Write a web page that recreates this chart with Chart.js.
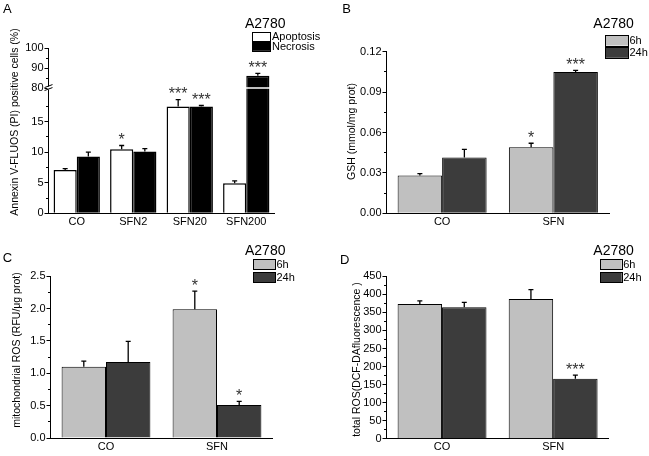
<!DOCTYPE html>
<html>
<head>
<meta charset="utf-8">
<script src="https://cdn.jsdelivr.net/npm/chart.js@4.4.0/dist/chart.umd.min.js"></script>
<style>
html, body { margin: 0; padding: 0; background: #fff; }
#fig { position: relative; width: 649px; height: 456px; overflow: hidden; }
#fig canvas { position: absolute; }
</style>
</head>
<body>
<div id="fig"></div>
<script>
// Panel A - annexin / PI
const catsA = ['CO', 'SFN2', 'SFN20', 'SFN200'];
const apoptosis = [7.1, 10.5, 17.5, 4.9];
const apoptosisErr = [0.2, 0.6, 1.1, 0.4];
const apoptosisSig = ['', '*', '***', ''];
const necrosis = [9.3, 10.1, 17.5, 86.2];
const necrosisErr = [0.7, 0.5, 0.15, 1.1];
const necrosisSig = ['', '', '***', '***'];
const ticksA = [0, 5, 10, 15, 80, 90, 100];
const minorA = [2.5, 7.5, 12.5, 17.5, 85, 95];

// Panels B-D - 6h vs 24h
const catsTime = ['CO', 'SFN'];
const gsh6h = [0.028, 0.049];
const gsh6hErr = [0.0015, 0.003];
const gsh6hSig = ['', '*'];
const gsh24h = [0.0415, 0.105];
const gsh24hErr = [0.006, 0.0012];
const gsh24hSig = ['', '***'];
const minorB = [0.015, 0.045, 0.075, 0.105];

const mros6h = [1.10, 1.99];
const mros6hErr = [0.09, 0.28];
const mros6hSig = ['', '*'];
const mros24h = [1.175, 0.51];
const mros24hErr = [0.32, 0.055];
const mros24hSig = ['', '*'];
const minorC = [0.25, 0.75, 1.25, 1.75, 2.25];

const tros6h = [373, 387];
const tros6hErr = [9, 26];
const tros6hSig = ['', ''];
const tros24h = [364, 166];
const tros24hErr = [14, 10];
const tros24hSig = ['', '***'];
const minorD = [25, 75, 125, 175, 225, 275, 325, 375, 425];

const FONT = 'Liberation Sans, Arial, sans-serif';
const LIGHT = '#c0c0c0';
const DARK = '#3c3c3c';

// y axis with a gap between breakLow and breakHigh
const breakLow = 20.5, breakHigh = 80, breakDec = 0.7576;
class BrokenScale extends Chart.LinearScale {
    toDecimal(v) {
        if (v <= breakLow) return v / breakLow * breakDec;
        if (v >= breakHigh) return breakDec + (v - breakHigh) / (this.max - breakHigh) * (1 - breakDec);
        return breakDec;
    }
    getPixelForValue(v) {
        return v === null ? NaN : this.getPixelForDecimal(this.toDecimal(v));
    }
    getValueForPixel(p) {
        const d = this.getDecimalForPixel(p);
        if (d <= breakDec) return d / breakDec * breakLow;
        return breakHigh + (d - breakDec) / (1 - breakDec) * (this.max - breakHigh);
    }
}
BrokenScale.id = 'broken';
BrokenScale.defaults = Chart.LinearScale.defaults;
Chart.register(BrokenScale);

function align(p) {
    return Math.round(p - 0.5) + 0.5;
}

// error bars, stars, minor ticks, legend, labels
const decor = {
    id: 'decor',
    afterDraw(chart, args, o) {
        const ctx = chart.ctx;
        const ys = chart.scales.y;
        const area = chart.chartArea;
        const ox = o.origin[0], oy = o.origin[1];
        const ax = align(area.left);
        ctx.save();

        if (o.brk) {
            const by = ys.getPixelForValue(breakHigh);
            ctx.strokeStyle = '#fff';
            ctx.lineWidth = 1.6;
            ctx.beginPath();
            ctx.moveTo(area.left + 2, by);
            ctx.lineTo(area.right, by);
            ctx.stroke();
            ctx.fillStyle = '#fff';
            ctx.fillRect(ax - 1, by - 1.5, 2, 3);
            ctx.strokeStyle = '#000';
            ctx.lineWidth = 1;
            ctx.beginPath();
            ctx.moveTo(ax - 4, by - 0.5);
            ctx.lineTo(ax + 4, by - 3.5);
            ctx.moveTo(ax - 4, by + 2.5);
            ctx.lineTo(ax + 4, by - 0.5);
            ctx.stroke();
        }

        // minor ticks
        ctx.strokeStyle = '#000';
        ctx.lineWidth = 1;
        ctx.beginPath();
        o.minor.forEach(v => {
            const y = align(ys.getPixelForValue(v));
            ctx.moveTo(ax - 2.5, y);
            ctx.lineTo(ax, y);
        });
        ctx.stroke();

        // error bars + significance stars
        chart.data.datasets.forEach((ds, i) => {
            const meta = chart.getDatasetMeta(i);
            meta.data.forEach((bar, j) => {
                const top = ys.getPixelForValue(ds.data[j] + ds.err[j]);
                ctx.strokeStyle = '#000';
                ctx.lineWidth = 1.3;
                ctx.beginPath();
                ctx.moveTo(bar.x, bar.y);
                ctx.lineTo(bar.x, top);
                ctx.moveTo(bar.x - 2.5, top);
                ctx.lineTo(bar.x + 2.5, top);
                ctx.stroke();
                if (ds.sig[j]) {
                    ctx.fillStyle = '#333';
                    ctx.font = '16px ' + FONT;
                    ctx.textAlign = 'center';
                    ctx.textBaseline = 'alphabetic';
                    ctx.fillText(ds.sig[j], bar.x, top - 9.5 + 9.3);
                }
            });
        });

        // panel letter
        ctx.fillStyle = '#000';
        ctx.font = '13px ' + FONT;
        ctx.textAlign = 'left';
        ctx.textBaseline = 'alphabetic';
        ctx.fillText(o.letter, o.letterAt[0] - ox, o.letterAt[1] - oy);

        // y title
        ctx.save();
        ctx.translate(o.titleAt[0] - ox, o.titleAt[1] - oy);
        ctx.rotate(-Math.PI / 2);
        ctx.font = '10.5px ' + FONT;
        ctx.textAlign = 'center';
        ctx.textBaseline = 'middle';
        ctx.fillText(o.title, 0, 0);
        ctx.restore();

        // legend
        const lg = o.legend;
        ctx.font = '14px ' + FONT;
        ctx.textAlign = 'left';
        ctx.textBaseline = 'alphabetic';
        ctx.fillStyle = '#000';
        ctx.fillText('A2780', lg.titleAt[0] - ox, lg.titleAt[1] - oy);
        ctx.font = '11px ' + FONT;
        ctx.textBaseline = 'middle';
        chart.data.datasets.forEach((ds, i) => {
            const bx = lg.x - ox, by = lg.rows[i] - oy;
            ctx.fillStyle = ds.backgroundColor;
            ctx.fillRect(bx, by, lg.w, lg.h);
            ctx.strokeStyle = '#000';
            ctx.lineWidth = 1;
            ctx.strokeRect(align(bx), align(by), Math.round(lg.w), Math.round(lg.h));
            ctx.fillStyle = '#000';
            ctx.fillText(ds.label, bx + lg.w + 1.5, by + lg.h / 2 + 0.5);
        });

        ctx.restore();
    }
};
Chart.register(decor);

function makePanel(p) {
    const canvas = document.createElement('canvas');
    canvas.width = p.box[2];
    canvas.height = p.box[3];
    canvas.style.left = p.box[0] + 'px';
    canvas.style.top = p.box[1] + 'px';
    document.getElementById('fig').appendChild(canvas);

    const yAxis = Object.assign({
        type: 'linear',
        border: { color: '#000', width: 1 },
        grid: { drawOnChartArea: false, drawTicks: true, tickLength: 4, color: '#000' },
        afterFit: s => { s.width = p.yW; }
    }, p.y);
    yAxis.ticks = Object.assign({ color: '#000', font: { family: FONT, size: 11 }, padding: 1 }, p.y.ticks);

    return new Chart(canvas, {
        type: 'bar',
        data: {
            labels: p.labels,
            datasets: p.sets.map(s => ({
                label: s.label,
                data: s.data,
                err: s.err,
                sig: s.sig,
                backgroundColor: s.color,
                borderColor: '#000',
                borderWidth: p.bw,
                categoryPercentage: p.cp,
                barPercentage: 1.0
            }))
        },
        options: {
            responsive: false,
            animation: false,
            layout: { padding: p.pad },
            plugins: {
                legend: { display: false },
                tooltip: { enabled: false },
                decor: p.decor
            },
            scales: {
                x: {
                    grid: { display: false, drawTicks: false },
                    border: { color: '#000', width: 1 },
                    ticks: { color: '#000', font: { family: FONT, size: 11 }, padding: 2, maxRotation: 0, autoSkip: false },
                    afterFit: s => { s.height = p.xH; }
                },
                y: yAxis
            }
        }
    });
}

makePanel({
    box: [0, 0, 325, 228],
    pad: { left: 0, right: 50.5, top: 48, bottom: 0 },
    yW: 48.5, xH: 14.7, bw: 1.5, cp: 0.82,
    labels: catsA,
    sets: [
        { label: 'Apoptosis', data: apoptosis, err: apoptosisErr, sig: apoptosisSig, color: '#ffffff' },
        { label: 'Necrosis', data: necrosis, err: necrosisErr, sig: necrosisSig, color: '#000000' }
    ],
    y: {
        type: 'broken', min: 0, max: 100,
        afterBuildTicks: s => { s.ticks = ticksA.map(v => ({ value: v })); },
        ticks: { callback: v => String(v) }
    },
    decor: {
        origin: [0, 0], brk: true, minor: minorA,
        letter: 'A', letterAt: [3, 12.7],
        title: 'Annexin V-FLUOS (PI) positive cells (%)', titleAt: [15, 122],
        legend: { titleAt: [245, 28.3], x: 252.5, w: 18, h: 8.5, rows: [32, 42.3] }
    }
});

makePanel({
    box: [325, 0, 324, 228],
    pad: { left: 0, right: 40, top: 51.7, bottom: 0 },
    yW: 61.5, xH: 14.7, bw: 1, cp: 0.8,
    labels: catsTime,
    sets: [
        { label: '6h', data: gsh6h, err: gsh6hErr, sig: gsh6hSig, color: LIGHT },
        { label: '24h', data: gsh24h, err: gsh24hErr, sig: gsh24hSig, color: DARK }
    ],
    y: { min: 0, max: 0.12, ticks: { stepSize: 0.03, callback: v => v.toFixed(2) } },
    decor: {
        origin: [325, 0], brk: false, minor: minorB,
        letter: 'B', letterAt: [342.3, 13.3],
        title: 'GSH (mmol/mg prot)', titleAt: [351.7, 131.5],
        legend: { titleAt: [593.3, 28.3], x: 605, w: 23, h: 10.5, rows: [35, 47.3] }
    }
});

makePanel({
    box: [0, 228, 325, 228],
    pad: { left: 0, right: 52.5, top: 48.3, bottom: 0 },
    yW: 50.5, xH: 18, bw: 1, cp: 0.8,
    labels: catsTime,
    sets: [
        { label: '6h', data: mros6h, err: mros6hErr, sig: mros6hSig, color: LIGHT },
        { label: '24h', data: mros24h, err: mros24hErr, sig: mros24hSig, color: DARK }
    ],
    y: { min: 0, max: 2.5, ticks: { stepSize: 0.5, callback: v => v.toFixed(1) } },
    decor: {
        origin: [0, 228], brk: false, minor: minorC,
        letter: 'C', letterAt: [2.7, 262.3],
        title: 'mitochondrial ROS (RFU/\u03bcg prot)', titleAt: [17.5, 350],
        legend: { titleAt: [245, 254.7], x: 253.3, w: 21.7, h: 10, rows: [259.7, 272] }
    }
});

makePanel({
    box: [325, 228, 324, 228],
    pad: { left: 0, right: 40.3, top: 48.3, bottom: 0 },
    yW: 61.5, xH: 17.3, bw: 1, cp: 0.8,
    labels: catsTime,
    sets: [
        { label: '6h', data: tros6h, err: tros6hErr, sig: tros6hSig, color: LIGHT },
        { label: '24h', data: tros24h, err: tros24hErr, sig: tros24hSig, color: DARK }
    ],
    y: { min: 0, max: 450, ticks: { stepSize: 50 } },
    decor: {
        origin: [325, 228], brk: false, minor: minorD,
        letter: 'D', letterAt: [340, 264],
        title: 'total ROS(DCF-DAfluorescence )', titleAt: [357, 359.5],
        legend: { titleAt: [593.3, 255.3], x: 600, w: 21.7, h: 10, rows: [259.7, 272] }
    }
});
</script>
</body>
</html>
